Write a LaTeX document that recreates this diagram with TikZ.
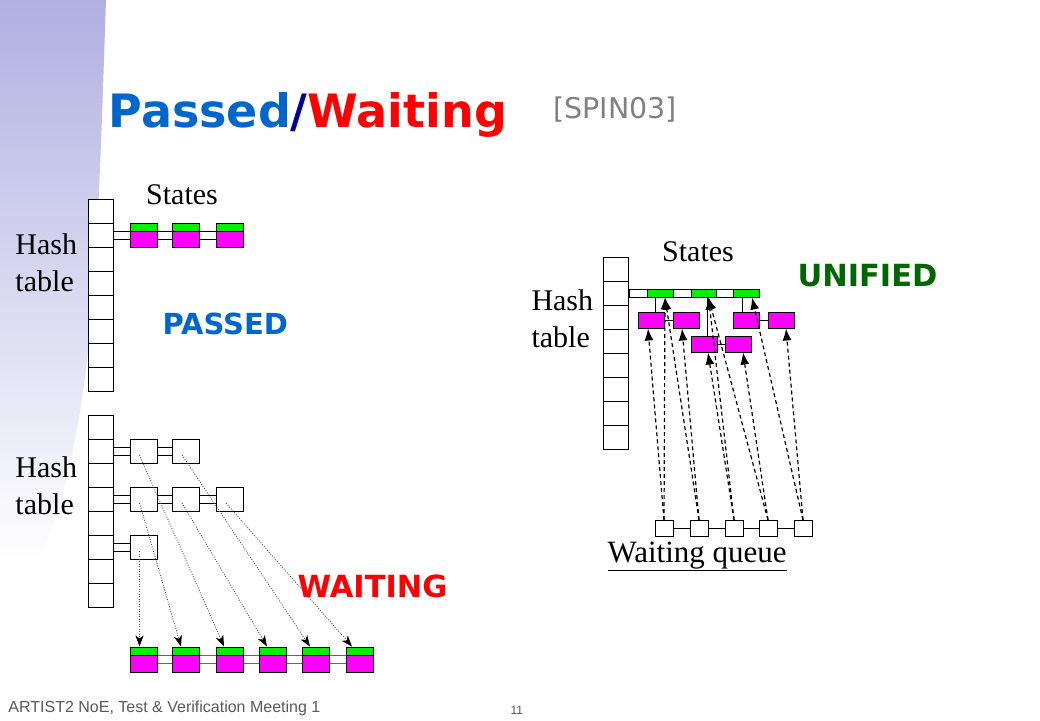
\documentclass[tikz,border=0pt]{standalone}
\usepackage{fontspec}
\setmainfont{Liberation Serif}
\newfontfamily\vsans{DejaVu Sans}
\newfontfamily\asans{Liberation Sans}
\usetikzlibrary{arrows.meta,calc}
\definecolor{st_green}{RGB}{0,240,0}
\definecolor{st_magenta}{RGB}{255,0,255}
\definecolor{ttl_blue}{RGB}{0,102,204}
\definecolor{ttl_navy}{RGB}{0,0,150}
\definecolor{uni_green}{RGB}{0,102,0}
\definecolor{side_blue}{RGB}{176,176,226}
\tikzstyle{cell}=[rectangle,fill=white,draw=black,line width=1pt,inner sep=0pt,
  minimum width=25pt,minimum height=24pt]
\tikzstyle{wb}=[rectangle,fill=white,draw=black,line width=1pt,inner sep=0pt,
  minimum width=27pt,minimum height=24pt]
\tikzstyle{sn}=[rectangle,fill=st_magenta,draw=black,line width=1pt,inner sep=0pt,
  minimum width=27pt,minimum height=24pt,
  path picture={\fill[st_green] (path picture bounding box.north west) rectangle
      ([yshift=-8pt]path picture bounding box.north east);
    \draw[line width=1pt] ([yshift=-8pt]path picture bounding box.north west) --
      ([yshift=-8pt]path picture bounding box.north east);}]
\tikzstyle{mb}=[rectangle,fill=st_magenta,draw=black,line width=1pt,inner sep=0pt,
  minimum width=26pt,minimum height=16pt]
\tikzstyle{gb}=[rectangle,fill=st_green,draw=black,line width=1pt,inner sep=0pt,
  minimum width=26pt,minimum height=8pt]
\tikzstyle{bar}=[rectangle,fill=white,draw=black,line width=1pt,inner sep=0pt,
  minimum width=130pt,minimum height=8pt]
\tikzstyle{qb}=[rectangle,fill=white,draw=black,line width=1pt,inner sep=0pt,
  minimum width=18pt,minimum height=16pt]
\tikzstyle{lbl}=[inner sep=0pt,align=left,font=\fontsize{30}{37}\selectfont]
\tikzstyle{big}=[inner sep=0pt,anchor=base west,font=\vsans\bfseries\fontsize{30.5}{35}\selectfont]
\tikzstyle{dots}=[line width=0.8pt,draw=black!70,dash pattern=on 1pt off 1.5pt,
  -{Stealth[length=11pt,width=8pt,inset=3pt,color=black]}]
\tikzstyle{qarrow}=[line width=1.2pt,dash pattern=on 4pt off 3pt,
  -{Latex[length=12pt,width=9pt]}]
\begin{document}
\begin{tikzpicture}[x=1pt,y=-1pt,line width=1pt]
        \useasboundingbox (0,0) rectangle (1040,720);
        \shade[top color=side_blue,bottom color=white,draw=none]
          (0,0) -- (106,0) .. controls (96,300) and (92,430) .. (40,560) -- (0,560) -- cycle;
        % title
        \node [inner sep=0pt,anchor=base west,font=\vsans\bfseries\fontsize{46}{52}\selectfont] (title) at (108,127)
          {\textcolor{ttl_blue}{Passed}\textcolor{ttl_navy}{/}\textcolor{red}{Waiting}};
        \node [inner sep=0pt,anchor=base west,font=\vsans\fontsize{28.5}{33}\selectfont,text=black!50] (ref) at (553,118) {[SPIN03]};
        % passed
        \foreach \i in {0,...,7}
          \node [style=cell] (p\i) at (100.5,211+24*\i) {};
        \node [style=sn] (s1) at (143.5,235) {};
        \node [style=sn] (s2) at (186,235) {};
        \node [style=sn] (s3) at (230,235) {};
        \draw ([yshift=4pt]p1.east) to ([yshift=4pt]s1.west);
        \draw ([yshift=-4pt]p1.east) to ([yshift=-4pt]s1.west);
        \draw ([yshift=4pt]s1.east) to ([yshift=4pt]s2.west);
        \draw ([yshift=-4pt]s1.east) to ([yshift=-4pt]s2.west);
        \draw ([yshift=4pt]s2.east) to ([yshift=4pt]s3.west);
        \draw ([yshift=-4pt]s2.east) to ([yshift=-4pt]s3.west);
        \node [style=lbl,anchor=base] (st1) at (182,204) {States};
        \node [style=lbl,anchor=north west] (ht1) at (15,233) {Hash\\table};
        \node [style=big,text=ttl_blue,font=\vsans\bfseries\fontsize{29}{34}\selectfont] (pl) at (162,334) {PASSED};
        % waiting
        \foreach \i in {0,...,7}
          \node [style=cell] (q\i) at (100.5,427+24*\i) {};
        \node [style=wb] (b1) at (143.5,451) {};
        \node [style=wb] (b2) at (186,451) {};
        \node [style=wb] (b3) at (143.5,499) {};
        \node [style=wb] (b4) at (186,499) {};
        \node [style=wb] (b5) at (230,499) {};
        \node [style=wb] (b6) at (143.5,547) {};
        \draw ([yshift=4pt]q1.east) to ([yshift=4pt]b1.west);
        \draw ([yshift=-4pt]q1.east) to ([yshift=-4pt]b1.west);
        \draw ([yshift=4pt]b1.east) to ([yshift=4pt]b2.west);
        \draw ([yshift=-4pt]b1.east) to ([yshift=-4pt]b2.west);
        \draw ([yshift=4pt]q3.east) to ([yshift=4pt]b3.west);
        \draw ([yshift=-4pt]q3.east) to ([yshift=-4pt]b3.west);
        \draw ([yshift=4pt]b3.east) to ([yshift=4pt]b4.west);
        \draw ([yshift=-4pt]b3.east) to ([yshift=-4pt]b4.west);
        \draw ([yshift=4pt]b4.east) to ([yshift=4pt]b5.west);
        \draw ([yshift=-4pt]b4.east) to ([yshift=-4pt]b5.west);
        \draw ([yshift=4pt]q5.east) to ([yshift=4pt]b6.west);
        \draw ([yshift=-4pt]q5.east) to ([yshift=-4pt]b6.west);
        \node [style=sn,minimum height=25pt] (t1) at (143.5,659.5) {};
        \node [style=sn,minimum height=25pt] (t2) at (186,659.5) {};
        \node [style=sn,minimum height=25pt] (t3) at (230,659.5) {};
        \node [style=sn,minimum height=25pt] (t4) at (273,659.5) {};
        \node [style=sn,minimum height=25pt] (t5) at (316,659.5) {};
        \node [style=sn,minimum height=25pt] (t6) at (360,659.5) {};
        \foreach \a/\b in {t1/t2,t2/t3,t3/t4,t4/t5,t5/t6} {
          \draw [black!60] ([yshift=4pt]\a.east) to ([yshift=4pt]\b.west);
          \draw [black!60] ([yshift=-4pt]\a.east) to ([yshift=-4pt]\b.west);
        }
        \draw [style=dots] ([shift={(-4pt,-4pt)}]b6.center) to ([xshift=-4pt]t1.north);
        \draw [style=dots] ([shift={(-4pt,-4pt)}]b3.center) to ([xshift=-5pt]t2.north);
        \draw [style=dots] ([shift={(-4pt,-4pt)}]b1.center) to ([xshift=-6pt]t3.north);
        \draw [style=dots] ([shift={(-4pt,-4pt)}]b4.center) to ([xshift=-6pt]t4.north);
        \draw [style=dots] ([shift={(-4pt,-4pt)}]b2.center) to ([xshift=-6pt]t5.north);
        \draw [style=dots] ([shift={(-4pt,-4pt)}]b5.center) to ([xshift=-8pt]t6.north);
        \node [style=lbl,anchor=north west] (ht2) at (15,456) {Hash\\table};
        \node [style=big,text=red] (wl) at (297,597) {WAITING};
        % unified
        \foreach \i in {0,...,7}
          \node [style=cell] (r\i) at (616,269+24*\i) {};
        \node [style=bar,anchor=west] (bar) at (r1.east) {};
        \node [style=gb] (g1) at (660,293) {};
        \node [style=gb,minimum width=25pt] (g2) at (703.5,293) {};
        \node [style=gb] (g3) at (746,293) {};
        \node [style=mb] (u1) at (651,320) {};
        \node [style=mb] (u2) at (686,320) {};
        \node [style=mb] (u3) at (746,320) {};
        \node [style=mb] (u4) at (781,320) {};
        \node [style=mb] (u5) at (704,344) {};
        \node [style=mb] (u6) at (738,344) {};
        \coordinate (c1) at ([xshift=-5pt]g1.south);
        \coordinate (c2) at ([xshift=3.5pt]g2.south);
        \coordinate (c3) at ([xshift=-3.5pt]g3.south);
        \draw (c1) to (c1 |- u1.north);
        \draw (c2) to (c2 |- u5.north);
        \draw (c3) to (c3 |- u3.north);
        \draw (u1.east) to (u2.west);
        \draw (u3.east) to (u4.west);
        \draw (u5.east) to (u6.west);
        \node [style=qb] (w1) at (664,528.5) {};
        \node [style=qb] (w2) at (699,528.5) {};
        \node [style=qb] (w3) at (734,528.5) {};
        \node [style=qb] (w4) at (768,528.5) {};
        \node [style=qb] (w5) at (803,528.5) {};
        \draw (w1.east) to (w2.west);
        \draw (w2.east) to (w3.west);
        \draw (w3.east) to (w4.west);
        \draw (w4.east) to (w5.west);
        \draw [style=qarrow] (w1.north) to ([xshift=-3pt]u1.south);
        \draw [style=qarrow] (w1.north) to ([xshift=5pt]g1.south);
        \draw [style=qarrow] (w2.north) to ([xshift=-4pt]u2.south);
        \draw [style=qarrow] (w2.north) to ([xshift=5pt]g1.south);
        \draw [style=qarrow] (w3.north) to ([xshift=4pt]u5.south);
        \draw [style=qarrow] (w3.north) to ([xshift=5pt]g2.south);
        \draw [style=qarrow] (w4.north) to ([xshift=5pt]g2.south);
        \draw [style=qarrow] (w4.north) to ([xshift=5pt]u6.south);
        \draw [style=qarrow] (w5.north) to ([xshift=6pt]g3.south);
        \draw [style=qarrow] (w5.north) to ([xshift=5pt]u4.south);
        \node [style=lbl,anchor=base] (st2) at (698,261) {States};
        \node [style=lbl,anchor=north west] (ht3) at (531,289) {Hash\\table};
        \node [style=lbl,anchor=base west,font=\fontsize{31}{37}\selectfont] (wq) at (607,562) {\underline{Waiting queue}};
        \node [style=big,text=uni_green] (ul) at (797,286) {UNIFIED};
        % footer
        \node [inner sep=0pt,anchor=base west,font=\asans\fontsize{16}{19}\selectfont,text=black!65] (foot) at (8,712)
          {ARTIST2 NoE, Test \& Verification Meeting 1};
        \node [inner sep=0pt,anchor=base west,font=\asans\fontsize{12}{14}\selectfont,text=black!65] (pg) at (510,714) {11};
    \end{tikzpicture}
\end{document}
